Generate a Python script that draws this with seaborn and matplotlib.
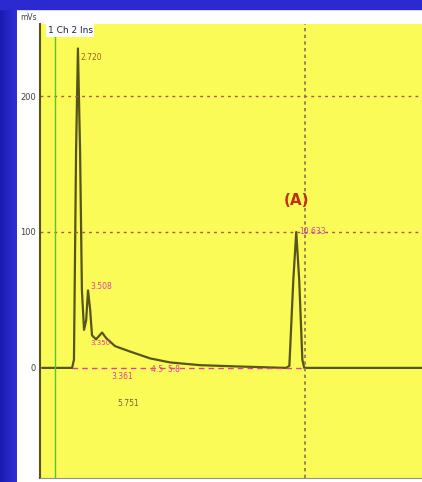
import numpy as np
import pandas as pd
import matplotlib
matplotlib.use("Agg")
import matplotlib.pyplot as plt
import seaborn as sns
from matplotlib.patches import Rectangle

# chromatogram trace (time in min, signal in mV)
time = [0.08, 1.21, 1.28, 1.36, 1.43, 1.51, 1.58, 1.66, 1.74, 1.81, 1.89, 1.96,
        2.11, 2.34, 2.49, 2.83, 3.40, 4.15, 4.91, 6.04, 7.55, 9.28, 9.40, 9.55,
        9.66, 9.77, 9.89, 9.96, 14.4]
signal = [0, 0, 6, 160, 235, 160, 57, 28, 35, 57, 43, 24,
          21, 26, 22, 16, 12, 7, 4, 2, 1, 0, 1.5, 65,
          100, 65, 6, 0, 0]

peak_times = [1.43, 1.81, 9.66]
peak_heights = [235, 57, 100]
peak_labels = ["2.720", "3.508", "10.633"]

y_ticks = [0, 100, 200]
y_ticklabels = ["0", "100", "200"]

sns.set_style("white")
plt.rcParams['font.family'] = ['DejaVu Sans']

fig = plt.figure(figsize=(4.22, 4.82), dpi=100)
fig.patch.set_facecolor("white")

# blue slide background on left and top
grad = np.linspace(0, 1, 50).reshape(1, -1)
bg = fig.add_axes([0, 0, 17 / 422, 1])
bg.imshow(grad, aspect="auto", cmap=matplotlib.colors.LinearSegmentedColormap.from_list(
    "b", ["#1a1ab0", "#3030d8"]))
bg.axis("off")
fig.patches.append(Rectangle((0, 1 - 9 / 482), 1, 9 / 482, transform=fig.transFigure,
                             color="#2a2ad0", zorder=0))

ax = fig.add_axes([40 / 422, 4 / 482, 382 / 422, 454 / 482])
ax.set_facecolor("#fbfb58")

df = pd.DataFrame({"time": time, "signal": signal})
sns.lineplot(data=df, x="time", y="signal", ax=ax, color="#55551a", linewidth=1.6,
             sort=False, estimator=None)

# integration baseline
ax.plot([1.21, 9.9], [0, 0], color="#e0409a", linestyle=(0, (4, 3)), linewidth=1)
ax.plot([0.5, 1.21], [0, 0], color="#55551a", linewidth=1.2)

# grid
for v in [100, 200]:
    ax.axhline(v, color="#b05050", linestyle=(0, (2, 3)), linewidth=1)
ax.axvline(10, color="#907050", linestyle=(0, (2, 2)), linewidth=1.2)
ax.axvline(0.57, color="#60c030", linewidth=1)

ax.set_xlim(0, 14.4)
ax.set_ylim(-81, 253)
ax.set_yticks(y_ticks)
ax.set_yticklabels(y_ticklabels, fontsize=6, color="#404040")
ax.set_xticks([0.3, 10])
ax.set_xticklabels(["", ""])
ax.tick_params(axis="y", length=2, pad=1)
for s in ["top", "right"]:
    ax.spines[s].set_visible(False)
ax.spines["left"].set_color("#55551a")
ax.spines["left"].set_linewidth(1.5)
ax.spines["bottom"].set_color("#909090")
ax.set_xlabel("")
ax.set_ylabel("")

# peak labels
ax.text(peak_times[0] + 0.1, peak_heights[0] - 10, peak_labels[0], fontsize=5.5,
        color="#a06020", ha="left", va="bottom")
ax.text(peak_times[1] + 0.1, peak_heights[1] + 3, peak_labels[1], fontsize=5.5,
        color="#e040a0", ha="left", va="center")
ax.text(peak_times[2] + 0.1, peak_heights[2], peak_labels[2], fontsize=5.5,
        color="#e040a0", ha="left", va="center")
ax.text(1.9, 17, "3.350", fontsize=5, color="#e040a0", rotation=0)
ax.text(2.7, -6, "3.361", fontsize=5.5, color="#e040a0", ha="left", va="center")
ax.text(2.9, -26, "5.751", fontsize=5.5, color="#806030", ha="left", va="center")
ax.text(4.2, -1, "4.5  5.8", fontsize=5.5, color="#e040a0", ha="left", va="center")
ax.text(peak_times[2], 118, "(A)", fontsize=11, color="#c03010", fontweight="bold",
        ha="center", va="bottom")

# header texts
fig.text(20 / 422, 1 - 20 / 482, "mVs", fontsize=5.5, color="#404040")
ax.text(0.02, 0.995, "1 Ch 2 Ins", transform=ax.transAxes, fontsize=6.5,
        color="#202040", va="top", ha="left",
        bbox=dict(boxstyle="square,pad=0.2", facecolor="white", edgecolor="none"))

fig.savefig("out.png", dpi=100)
